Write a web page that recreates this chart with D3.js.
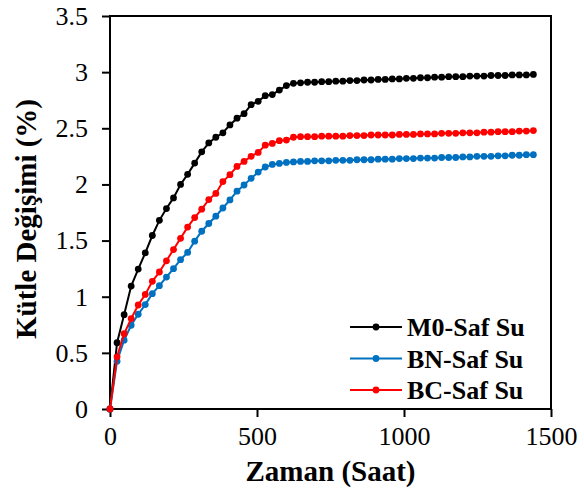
<!DOCTYPE html>
<html><head><meta charset="utf-8">
<script src="https://cdn.jsdelivr.net/npm/d3@7"></script>
<style>body{margin:0;background:#fff}svg{display:block}
svg text{font-family:"Liberation Serif","Times New Roman",Tinos,serif}</style>
</head><body>
<script>
const hours = d3.range(0, 1441, 24);
const m0 = [0,0.59,0.84,1.095,1.246,1.39,1.545,1.68,1.785,1.88,2.0,2.09,2.19,2.29,2.37,2.42,2.46,2.53,2.59,2.63,2.71,2.74,2.79,2.80,2.84,2.88,
 2.90,2.905,2.91,2.91,2.915,2.915,2.92,2.92,2.925,2.925,2.93,2.93,2.935,2.935,2.94,2.94,2.945,2.945,2.95,2.95,2.955,2.955,2.96,2.96,2.96,2.965,2.965,2.965,2.97,2.97,2.97,2.975,2.975,2.975,2.98];
const bn = [0,0.426,0.613,0.746,0.844,0.93,1.027,1.098,1.175,1.25,1.33,1.394,1.495,1.583,1.652,1.717,1.79,1.862,1.94,1.995,2.054,2.11,2.155,2.178,2.187,2.196,
 2.20,2.205,2.205,2.21,2.21,2.21,2.215,2.215,2.215,2.22,2.22,2.22,2.225,2.225,2.225,2.23,2.23,2.23,2.235,2.235,2.235,2.24,2.24,2.24,2.245,2.245,2.25,2.25,2.25,2.255,2.255,2.26,2.26,2.265,2.265];
const bc = [0,0.465,0.67,0.805,0.926,1.02,1.137,1.22,1.32,1.42,1.52,1.62,1.705,1.78,1.865,1.92,2.025,2.087,2.16,2.205,2.25,2.285,2.35,2.365,2.39,2.395,
 2.42,2.425,2.425,2.425,2.43,2.43,2.43,2.43,2.435,2.435,2.435,2.44,2.44,2.44,2.44,2.445,2.445,2.445,2.45,2.45,2.45,2.455,2.455,2.455,2.46,2.46,2.46,2.465,2.465,2.47,2.47,2.47,2.475,2.475,2.48];
const seriesNames = ["M0-Saf Su","BN-Saf Su","BC-Saf Su"];
const seriesColors = ["#000000","#0070C0","#FF0000"];
const xTicks = [0,500,1000,1500];
const yTicks = [0,0.5,1,1.5,2,2.5,3,3.5];

const W=584,H=493;
const svg=d3.select("body").append("svg").attr("width",W).attr("height",H);
const L=110,R=551,T=16,B=409;
const x=d3.scaleLinear().domain([0,1500]).range([L,R]);
const y=d3.scaleLinear().domain([0,3.5]).range([B,T]);

// axes
const xa=svg.append("g").attr("transform",`translate(0,${B})`)
 .call(d3.axisBottom(x).tickValues(xTicks).tickSize(8).tickSizeOuter(0).tickPadding(10).tickFormat(d3.format("d")));
const ya=svg.append("g").attr("transform",`translate(${L},0)`)
 .call(d3.axisLeft(y).tickValues(yTicks).tickSize(8).tickSizeOuter(0).tickPadding(14).tickFormat(d=>String(d)));
[xa,ya].forEach(g=>{
 g.attr("font-family",null).attr("font-size",null);
 g.selectAll("path").remove();
 g.selectAll("line").attr("stroke","#000").attr("stroke-width",2);
 g.selectAll("text").attr("font-family","Liberation Serif").attr("font-size",26).attr("fill","#000");
});
// frame
svg.append("rect").attr("x",L).attr("y",T).attr("width",R-L).attr("height",B-T)
 .attr("fill","none").attr("stroke","#000").attr("stroke-width",2);

const data=[m0,bn,bc];
const line=d3.line().x((d,i)=>x(hours[i])).y(d=>y(d));
[0,1,2].forEach(k=>{
 const g=svg.append("g");
 g.append("path").datum(data[k]).attr("d",line).attr("fill","none")
  .attr("stroke",seriesColors[k]).attr("stroke-width",2);
 g.selectAll("circle").data(data[k]).join("circle")
  .attr("cx",(d,i)=>x(hours[i])).attr("cy",d=>y(d)).attr("r",3.4)
  .attr("fill",seriesColors[k]);
});

// legend
const leg=svg.append("g");
seriesNames.forEach((n,k)=>{
 const ly=327+k*31.5;
 leg.append("line").attr("x1",350).attr("x2",402).attr("y1",ly).attr("y2",ly)
  .attr("stroke",seriesColors[k]).attr("stroke-width",2);
 leg.append("circle").attr("cx",376).attr("cy",ly).attr("r",3.4).attr("fill",seriesColors[k]);
 leg.append("text").attr("x",407).attr("y",ly+9).text(n)
  .attr("font-family","Times New Roman").attr("font-weight","bold").attr("font-size",26);
});

// titles
svg.append("text").attr("x",(L+R)/2).attr("y",481).attr("text-anchor","middle")
 .attr("font-weight","bold").attr("font-size",29).text("Zaman (Saat)");
svg.append("text").attr("transform","translate(36,219) rotate(-90)").attr("text-anchor","middle")
 .attr("font-family","Tinos").attr("font-weight","bold").attr("font-size",29).text("Kütle Değişimi (%)");
</script>
</body></html>
